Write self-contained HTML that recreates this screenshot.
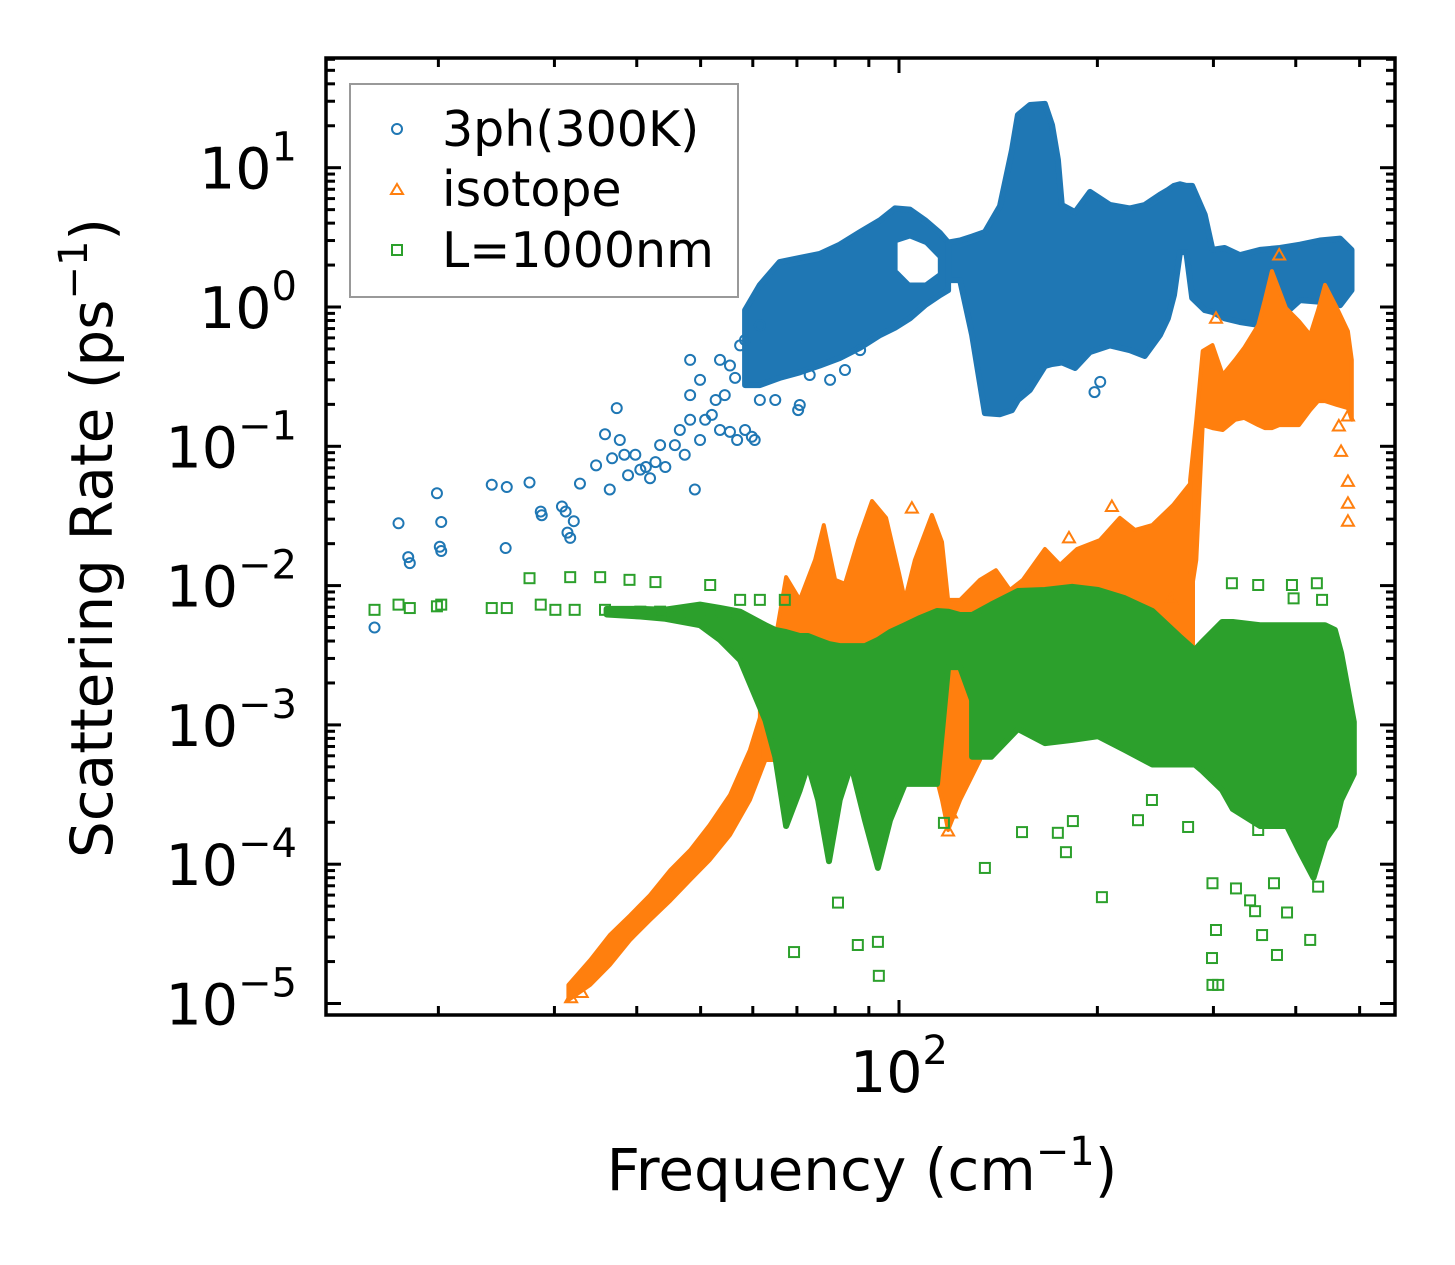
<!DOCTYPE html>
<html><head><meta charset="utf-8"><style>
html,body{margin:0;padding:0;background:#fff;}
svg{display:block;font-family:"DejaVu Sans","Liberation Sans",sans-serif;}
</style></head><body>
<svg id="chart" width="1455" height="1265" viewBox="0 0 1455 1265" xmlns="http://www.w3.org/2000/svg">
<rect x="0" y="0" width="1455" height="1265" fill="#fff"/>
<defs><clipPath id="plotclip"><rect x="326" y="58" width="1069" height="957"/></clipPath></defs>
<g id="plot" clip-path="url(#plotclip)"></g>
<g id="axes"></g>
<text x="862" y="1190" font-size="58" text-anchor="middle">Frequency (cm<tspan font-size="40" dy="-25">−1</tspan><tspan dy="25">)</tspan></text>
<text transform="translate(112,538) rotate(-90)" font-size="58" text-anchor="middle">Scattering Rate (ps<tspan font-size="40" dy="-25">−1</tspan><tspan dy="25">)</tspan></text>
<g id="legend">
<rect x="350" y="84" width="388" height="213" fill="#fff" stroke="#999" stroke-width="2"/>
<g>
<circle cx="397" cy="129" r="5" fill="none" stroke="#1f77b4" stroke-width="2"/>
<text x="442" y="146" font-size="49">3ph(300K)</text></g>
<g>
<polygon points="397,184 403,194 391,194" fill="none" stroke="#ff7f0e" stroke-width="2"/>
<text x="442" y="206" font-size="49">isotope</text></g>
<g>
<rect x="392" y="245" width="10" height="10" fill="none" stroke="#2ca02c" stroke-width="2"/>
<text x="442" y="267" font-size="49">L=1000nm</text></g>
</g>
</svg>
<script>
// ---------- data (frequency cm^-1, rate ps^-1) ----------
const xTickMajor = [100];
const xTickMinor = [20,30,40,50,60,70,80,90,200,300,400,500];
const yTickMajor = [10,1,0.1,0.01,0.001,0.0001,0.00001];
const yTickLabelsExp = ["1","0","−1","−2","−3","−4","−5"];

// 3ph(300K): dense clouds (envelopes) + sparse points
const blueLeftF  = [58.4,61.5,65.9,70.7,75.8,81.3,87.3,93.6,98.6,103.9,109.5,115.4,118.7];
const blueLeftHi = [0.95,1.44,2.1,2.25,2.4,2.8,3.45,4.2,5.1,5.0,4.2,3.4,2.9];
const blueLeftLo = [0.275,0.275,0.31,0.34,0.38,0.43,0.51,0.63,0.71,0.83,1.03,1.22,1.32];
const blueHoleF  = [99.5,103.9,109.5,114.5];
const blueHoleHi = [2.9,3.1,2.8,2.25];
const blueHoleLo = [1.84,1.50,1.50,1.75];
const blueRightF  = [118.7,123.8,129.1,135.0,142.3,148.4,151.5,158,166.5,170.7,174.2,176.6,185.0,194.9,209.0,224.1,236.0,248.9,255.9,261.4,266.9,272.9,278.6,291,299,312,329,353,378.5,406,435,467,486];
const blueRightHi = [2.9,3.0,3.2,3.45,5.3,13.4,23.9,28.2,28.7,20.3,11.4,5.4,4.8,6.7,5.4,5.1,5.4,6.4,6.9,7.4,7.6,7.4,7.4,4.6,2.57,2.65,2.36,2.57,2.65,2.8,3.0,3.1,2.57];
const blueRightLo = [1.56,1.56,0.63,0.173,0.17,0.182,0.215,0.254,0.377,0.39,0.395,0.40,0.365,0.475,0.53,0.49,0.445,0.63,0.83,1.22,2.48,2.48,1.16,0.95,0.92,0.83,0.78,0.74,0.83,1.12,1.09,1.03,1.32];
const blueF = [16.0,17.4,18.0,18.1,19.9,20.2,20.1,20.2,24.1,25.4,25.3,27.5,28.6,28.7,30.8,31.2,31.4,31.7,32.1,32.8,34.7,35.8,36.4,36.7,37.3,37.7,38.3,38.8,39.8,40.5,41.3,41.9,42.7,43.4,44.2,45.7,46.5,47.3,48.2,49.0,49.9,50.8,52.0,52.7,53.5,54.4,55.4,56.8,58.4,59.8,60.4,49.9,48.2,56.4,61.5,64.9,70.3,70.7,73.2,78.6,82.8,87.3,48.2,53.5,57.4,61.5,58.4,55.4,198,202];
const blueR = [0.0050,0.028,0.016,0.0145,0.046,0.0286,0.019,0.0177,0.053,0.051,0.0186,0.055,0.034,0.032,0.037,0.034,0.024,0.022,0.029,0.054,0.073,0.122,0.049,0.082,0.188,0.111,0.087,0.062,0.087,0.068,0.071,0.059,0.077,0.102,0.071,0.102,0.131,0.087,0.155,0.049,0.111,0.155,0.168,0.215,0.131,0.233,0.127,0.111,0.131,0.117,0.111,0.30,0.233,0.31,0.215,0.215,0.182,0.198,0.325,0.30,0.353,0.49,0.417,0.417,0.53,0.74,0.58,0.38,0.245,0.29];

// isotope
const isoRampF  = [31.5,34.0,36.4,39.1,41.9,45.0,48.2,51.6,55.4,59.4,62.7];
const isoRampHi = [1.36e-5,2.05e-5,3.1e-5,4.3e-5,6.0e-5,9.1e-5,1.26e-4,1.91e-4,3.14e-4,6.6e-4,1.51e-3];
const isoRampLo = [1.06e-5,1.36e-5,1.89e-5,2.86e-5,3.97e-5,5.5e-5,7.7e-5,1.07e-4,1.62e-4,2.89e-4,5.6e-4];
const isoMidF  = [61.5,64.9,67.4,70.7,74.6,76.9,80.0,82.8,86.7,91.0,95.6,100,102.1,105.7,112.2,116.2,118.7,123.8,132.7,140.3,147.4,154.2,166.5,175.5,186.3,201.8,216.4,228.1,242.3,260.7,277.1,279.3];
const isoMidHi = [1.51e-3,4.07e-3,0.0115,0.0079,0.0153,0.0272,0.011,0.0103,0.0212,0.0405,0.0306,0.0123,0.0079,0.0153,0.0321,0.0206,0.0079,0.0079,0.011,0.0129,0.0093,0.011,0.0183,0.0141,0.0183,0.0212,0.0306,0.0251,0.0272,0.0379,0.0545,0.0573];
const isoMidLo = [5.6e-4,5.6e-4,5.6e-4,5.6e-4,5.6e-4,5.6e-4,5.6e-4,5.6e-4,5.6e-4,5.6e-4,5.6e-4,7.8e-4,1.08e-3,9.2e-4,5.6e-4,2.89e-4,1.76e-4,2.89e-4,5.6e-4,1.51e-3,1.78e-3,1.78e-3,1.78e-3,1.78e-3,1.78e-3,1.78e-3,1.78e-3,1.78e-3,1.78e-3,1.78e-3,1.78e-3,1.78e-3];
const isoHighF  = [276.5,282.6,289,299,310,323.6,334,350.8,359,368,377.5,386.6,404.6,420.7,432.5,443,462,480,486.5];
const isoHighHi = [0.0573,0.155,0.483,0.533,0.325,0.417,0.508,0.74,1.12,1.81,1.32,0.98,0.79,0.63,0.95,1.44,0.98,0.67,0.417];
const isoHighLo = [0.0079,0.0153,0.142,0.135,0.131,0.155,0.160,0.142,0.135,0.135,0.142,0.142,0.142,0.182,0.211,0.211,0.198,0.188,0.155];
const isoF = [302.7,377.5,104.6,210.4,181.1,468.6,480,480,480,465,480,118.7,119.9,258.8,31.8,33.0];
const isoR = [0.83,2.36,0.036,0.037,0.022,0.092,0.056,0.039,0.029,0.14,0.165,1.73e-4,2.33e-4,0.008,1.1e-5,1.2e-5];

// L=1000nm boundary
const bndAF  = [36,40.5,44,49.9,53.5,57.4,62.7,64.9,67.4,70.7,72.8,75.4,78.3,81.3,84.6,88.8,92.9,96.9,102.1,107.6,114.2,118.7,123.8,129.1];
const bndAHi = [0.0068,0.0068,0.0067,0.0073,0.0069,0.0065,0.0052,0.0048,0.00464,0.00435,0.00435,0.00407,0.0038,0.00368,0.00368,0.00368,0.00407,0.00464,0.0052,0.00585,0.00657,0.0065,0.00615,0.00615];
const bndALo = [0.0062,0.0060,0.0058,0.0052,0.00407,0.00292,1.08e-3,5.9e-4,1.88e-4,3.41e-4,5.2e-4,2.89e-4,1.05e-4,2.89e-4,5.2e-4,2.07e-4,9.4e-5,2.07e-4,3.77e-4,3.77e-4,3.77e-4,2.6e-3,2.6e-3,1.51e-3];
const bndBF  = [129.1,138.0,151.5,166.5,183.1,200.5,220.2,242.3,266,281,287.5,309.2,321,353,359,388,404.6,425.6,443,458.6,468.6,490];
const bndBHi = [0.00615,0.0073,0.00915,0.0093,0.0098,0.0093,0.0081,0.00657,0.00435,0.00345,0.00387,0.00548,0.00548,0.0052,0.0052,0.0052,0.0052,0.0052,0.0052,0.0048,0.00328,1.05e-3];
const bndBLo = [5.9e-4,5.9e-4,9.35e-4,7.4e-4,7.8e-4,8.3e-4,6.6e-4,5.2e-4,5.2e-4,5.2e-4,4.75e-4,3.41e-4,2.49e-4,1.88e-4,1.88e-4,1.88e-4,1.26e-4,8.0e-5,1.49e-4,1.88e-4,2.89e-4,4.45e-4];
const bndF = [16.0,17.4,18.1,19.9,20.2,24.1,25.4,27.5,28.6,30.1,31.7,32.2,35.2,35.8,39.0,40.5,42.7,43.4,46.5,51.7,57.4,61.5,67.1,49.9,52.0,55.0,
  69.3,86.6,92.9,93.2,80.8,203.2,135,179.2,174.2,299,302.7,298.5,299,305,324.6,341,347,355.6,374.6,388,420.7,432.5,370.7,350.8,274.6,117,153.7,183.6,230.5,242,
  320,394.7,397,430.6,438.5,350.8];
const bndR = [0.0067,0.0073,0.0069,0.0071,0.0073,0.0069,0.0069,0.0113,0.0073,0.0067,0.0115,0.0067,0.0115,0.0067,0.011,0.0065,0.0106,0.0065,0.0065,0.0101,0.0079,0.0079,0.0079,0.0067,0.0065,0.0063,
  2.34e-5,2.63e-5,2.77e-5,1.58e-5,5.3e-5,5.8e-5,9.4e-5,1.22e-4,1.68e-4,7.3e-5,3.37e-5,2.12e-5,1.36e-5,1.36e-5,6.7e-5,5.5e-5,4.6e-5,3.1e-5,2.23e-5,4.5e-5,2.86e-5,6.9e-5,7.3e-5,1.76e-4,1.85e-4,1.98e-4,1.70e-4,2.04e-4,2.07e-4,2.89e-4,
  0.0104,0.0101,0.0081,0.0104,0.0079,0.0101];

// ---------- scales ----------
const X0 = 899, XD = 659;   // pixel of 100 cm^-1, pixels per decade
const Y0 = 307, YD = 139.3; // pixel of 1 ps^-1, pixels per decade
function sx(f){ return X0 + XD*Math.log10(f/100); }
function sy(r){ return Y0 - YD*Math.log10(r); }

const NS = "http://www.w3.org/2000/svg";
const plot = document.getElementById('plot');
const axes = document.getElementById('axes');
const C_B = "#1f77b4", C_O = "#ff7f0e", C_G = "#2ca02c";

function band(F, hi, lo, color, name, sw){
  let pts = [];
  for (let i=0;i<F.length;i++) pts.push(sx(F[i]).toFixed(1)+","+sy(hi[i]).toFixed(1));
  for (let i=F.length-1;i>=0;i--) pts.push(sx(F[i]).toFixed(1)+","+sy(lo[i]).toFixed(1));
  const p = document.createElementNS(NS,'polygon');
  p.setAttribute('points', pts.join(' '));
  p.setAttribute('fill', color);
  p.setAttribute('stroke', color);
  p.setAttribute('stroke-width', sw);
  p.setAttribute('stroke-linejoin', 'round');
  
  
  plot.appendChild(p);
}
function markers(F, R, shape, color, name){
  const g = document.createElementNS(NS,'g');
  
  
  for (let i=0;i<F.length;i++){
    const x = sx(F[i]), y = sy(R[i]);
    let m;
    if (shape==='o'){
      m = document.createElementNS(NS,'circle');
      m.setAttribute('cx', x); m.setAttribute('cy', y); m.setAttribute('r', 5);
    } else if (shape==='^'){
      m = document.createElementNS(NS,'polygon');
      m.setAttribute('points', `${x},${y-6} ${x+6},${y+4.5} ${x-6},${y+4.5}`);
    } else {
      m = document.createElementNS(NS,'rect');
      m.setAttribute('x', x-5); m.setAttribute('y', y-5);
      m.setAttribute('width', 10); m.setAttribute('height', 10);
    }
    m.setAttribute('fill','none');
    m.setAttribute('stroke', color);
    m.setAttribute('stroke-width', 2);
    
    
    g.appendChild(m);
  }
  plot.appendChild(g);
}

// 3ph
band(blueLeftF, blueLeftHi, blueLeftLo, C_B, '3ph-cloud-low', 6);
band(blueRightF, blueRightHi, blueRightLo, C_B, '3ph-cloud-high', 6);
band(blueHoleF, blueHoleHi, blueHoleLo, '#ffffff', '3ph-cloud-gap', 0);
markers(blueF, blueR, 'o', C_B, '3ph-series');
// isotope
band(isoRampF, isoRampHi, isoRampLo, C_O, 'isotope-ramp', 4);
band(isoMidF, isoMidHi, isoMidLo, C_O, 'isotope-cloud-mid', 4);
band(isoHighF, isoHighHi, isoHighLo, C_O, 'isotope-cloud-high', 4);
markers(isoF, isoR, '^', C_O, 'isotope-series');
// boundary
band(bndAF, bndAHi, bndALo, C_G, 'boundary-cloud-low', 6);
band(bndBF, bndBHi, bndBLo, C_G, 'boundary-cloud-high', 6);
markers(bndF, bndR, 's', C_G, 'boundary-series');

// ---------- axes ----------
function line(x1,y1,x2,y2,w,name){
  const l = document.createElementNS(NS,'line');
  l.setAttribute('x1',x1); l.setAttribute('y1',y1); l.setAttribute('x2',x2); l.setAttribute('y2',y2);
  l.setAttribute('stroke','#000'); l.setAttribute('stroke-width',w);
  
  
  axes.appendChild(l);
}
const L=326, R=1395, T=58, B=1015;
xTickMajor.forEach(f=>{ const x=sx(f); line(x,B,x,B-15,3,'x-major-tick'); line(x,T,x,T+15,3,'x-major-tick-top'); });
xTickMinor.forEach(f=>{ const x=sx(f); line(x,B,x,B-9,3,'x-minor-tick'); line(x,T,x,T+9,3,'x-minor-tick-top'); });
yTickMajor.forEach((r,i)=>{
  const y=sy(r);
  line(L,y,L+15,y,3,'y-major-tick'); line(R,y,R-15,y,3,'y-major-tick-right');
  const t = document.createElementNS(NS,'text');
  t.setAttribute('x', 297); t.setAttribute('y', y+21);
  t.setAttribute('font-size', 57); t.setAttribute('text-anchor','end');
  
  
  t.innerHTML = '10<tspan font-size="40" dy="-28">'+yTickLabelsExp[i]+'</tspan>';
  axes.appendChild(t);
  for (let k=2;k<=9;k++){
    const yy = sy(r*k);
    if (yy>T && yy<B) { line(L,yy,L+9,yy,3,'y-minor-tick'); line(R,yy,R-9,yy,3,'y-minor-tick-right'); }
  }
});
{
  const t = document.createElementNS(NS,'text');
  t.setAttribute('x', sx(100)); t.setAttribute('y', 1092);
  t.setAttribute('font-size', 57); t.setAttribute('text-anchor','middle');
  
  
  t.innerHTML = '10<tspan font-size="40" dy="-28">2</tspan>';
  axes.appendChild(t);
}
const fr = document.createElementNS(NS,'rect');
fr.setAttribute('x',L); fr.setAttribute('y',T); fr.setAttribute('width',R-L); fr.setAttribute('height',B-T);
fr.setAttribute('fill','none'); fr.setAttribute('stroke','#000'); fr.setAttribute('stroke-width',3.5);


axes.appendChild(fr);
</script>
</body></html>
